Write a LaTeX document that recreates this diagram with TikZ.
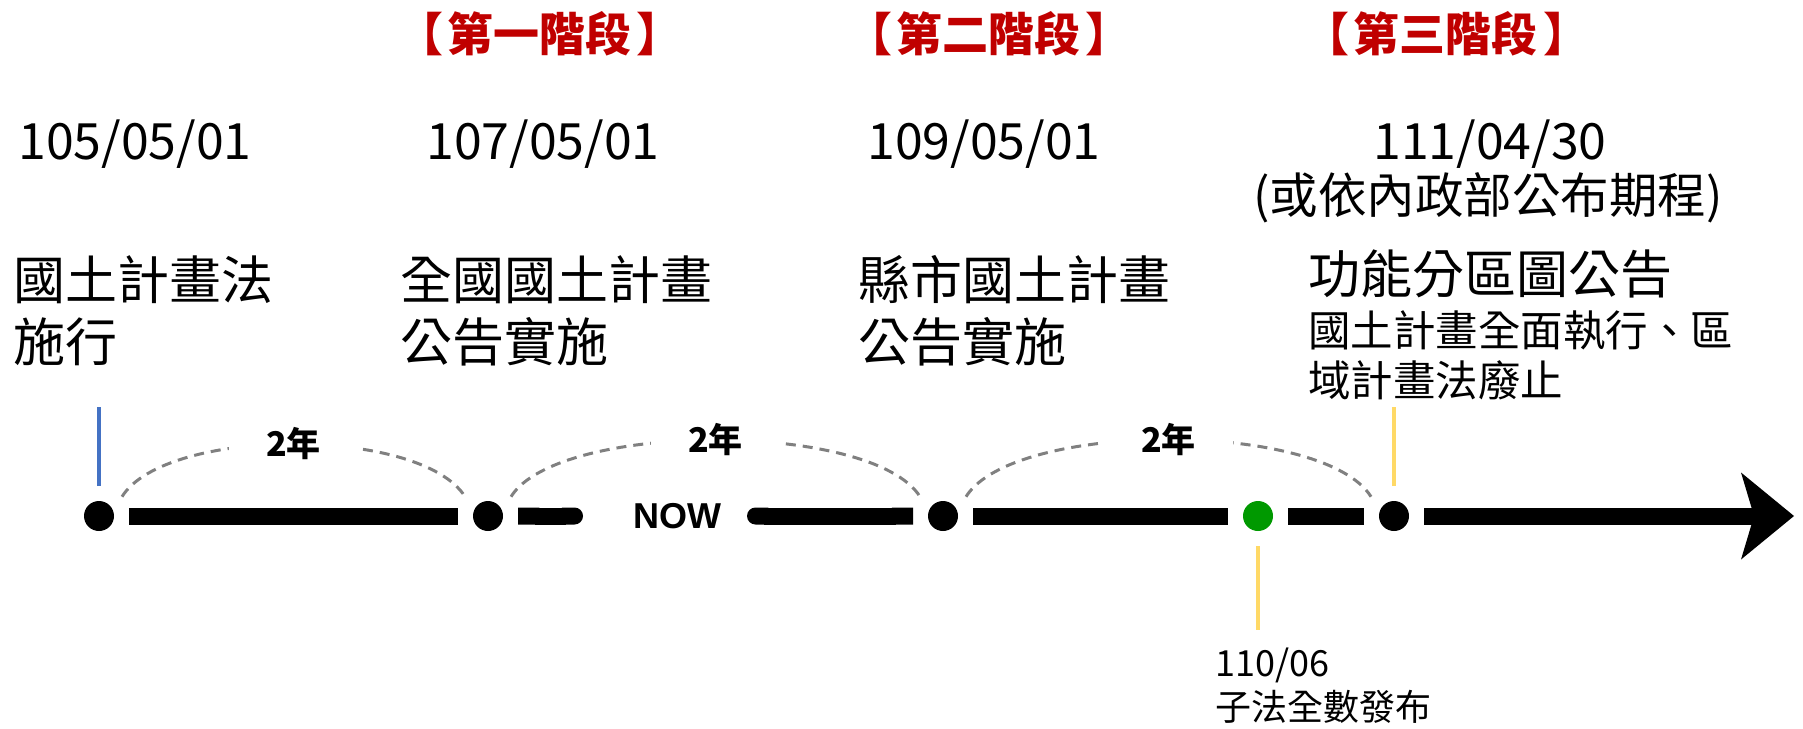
\documentclass[tikz,border=0pt]{standalone}
\usepackage{fontspec}
\setmainfont{Noto Sans CJK TC}
\newfontfamily\nowfont{Liberation Sans}
\usetikzlibrary{arrows.meta}
\definecolor{stagered}{RGB}{192,0,0}
\definecolor{dotgreen}{RGB}{0,153,0}
\definecolor{spangray}{RGB}{128,128,128}
\definecolor{tickblue}{RGB}{68,114,196}
\definecolor{tickyellow}{RGB}{255,217,102}
\newcommand{\fsz}[1]{\fontsize{#1}{#1}\selectfont}
\newcommand{\stagetext}[1]{【\hspace{5pt}#1\hspace{5pt}】}
\begin{document}
\begin{tikzpicture}[x=1pt,y=-1pt,
  dot/.style={circle, fill=black, inner sep=0pt, minimum size=30pt, outer sep=15pt},
  bar/.style={line width=17pt, draw=black},
  span/.style={draw=spangray, line width=3pt, dash pattern=on 10pt off 7pt},
  yrs/.style={font=\bfseries\fsz{34}, fill=white, inner xsep=37pt, inner ysep=4pt},
  stage/.style={font=\bfseries\fsz{46}, text=stagered, inner sep=0pt},
  date/.style={font=\fsz{50}, inner sep=0pt},
  txt/.style={inner sep=0pt, anchor=west},
  tick/.style={line width=4pt}
]
\useasboundingbox (0,0) rectangle (1803,728);

% dots
\node[dot] (d1) at (99,516) {};
\node[dot] (d2) at (488,516) {};
\node[dot] (d3) at (943,516) {};
\node[dot, fill=dotgreen] (g) at (1258,516) {};
\node[dot] (d5) at (1394,516) {};
\coordinate (nowL) at (583,516);
\coordinate (nowR) at (747,516);
\coordinate (tip) at (1794,516);
\node[font=\nowfont\bfseries\fsz{36}, inner sep=0pt] (now) at (677,516) {NOW};

% timeline bars
\draw[bar] (d1) -- (d2);
\draw[bar, {Butt Cap}-{Round Cap}] (d2) -- (nowL);
\draw[bar, {Round Cap}-{Butt Cap}] (nowR) -- (d3);
\draw[bar] (d3) -- (g);
\draw[bar] (g) -- (d5);
\draw[bar, -{Stealth[length=53pt, width=87pt, inset=13pt, line width=0pt]}] (d5) -- (tip);

% dashed spans
\draw[span] (d1.40) to[out=58, in=122, looseness=0.62] node[yrs, midway] (y1) {2年} (d2.140);
\draw[span] (d2.40) to[out=58, in=122, looseness=0.56] node[yrs, midway] (y2) {2年} (d3.140);
\draw[span] (d3.40) to[out=58, in=122, looseness=0.57] node[yrs, midway] (y3) {2年} (d5.140);

% ticks
\coordinate (b1) at (99,407);
\coordinate (b5) at (1394,407);
\coordinate (bg) at (1258,630);
\draw[tick, draw=tickblue] (d1.north) -- (b1);
\draw[tick, draw=tickyellow] (d5.north) -- (b5);
\draw[tick, draw=tickyellow] (g.south) -- (bg);

% stage titles
\node[stage] (s1) at (540,34) {\stagetext{第一階段}};
\node[stage] (s2) at (989,34) {\stagetext{第二階段}};
\node[stage] (s3) at (1446,34) {\stagetext{第三階段}};

% dates
\node[date] (t1) at (135,144) {105/05/01};
\node[date] (t2) at (543,144) {107/05/01};
\node[date] (t3) at (984,144) {109/05/01};
\node[date] (t4) at (1490,144) {111/04/30};
\node[font=\fsz{48.5}, inner sep=0pt] (t4b) at (1488,198) {(或依內政部公布期程)};

% event labels
\node[txt, font=\fsz{52}] (e1a) at (13,280) {國土計畫法};
\node[txt, font=\fsz{52}] (e1b) at (13,342) {施行};
\node[txt, font=\fsz{52}] (e2a) at (400,280) {全國國土計畫};
\node[txt, font=\fsz{52}] (e2b) at (400,342) {公告實施};
\node[txt, font=\fsz{52}] (e3a) at (858,280) {縣市國土計畫};
\node[txt, font=\fsz{52}] (e3b) at (858,342) {公告實施};
\node[txt, font=\fsz{52}] (e4a) at (1308,274) {功能分區圖公告};
\node[txt, font=\fsz{42.5}] (e4b) at (1308,330) {國土計畫全面執行、區};
\node[txt, font=\fsz{42.5}] (e4c) at (1308,380) {域計畫法廢止};
\node[txt, font=\fsz{36}] (e5a) at (1215,665) {110/06};
\node[txt, font=\fsz{36}] (e5b) at (1215,707) {子法全數發布};
\end{tikzpicture}
\end{document}
